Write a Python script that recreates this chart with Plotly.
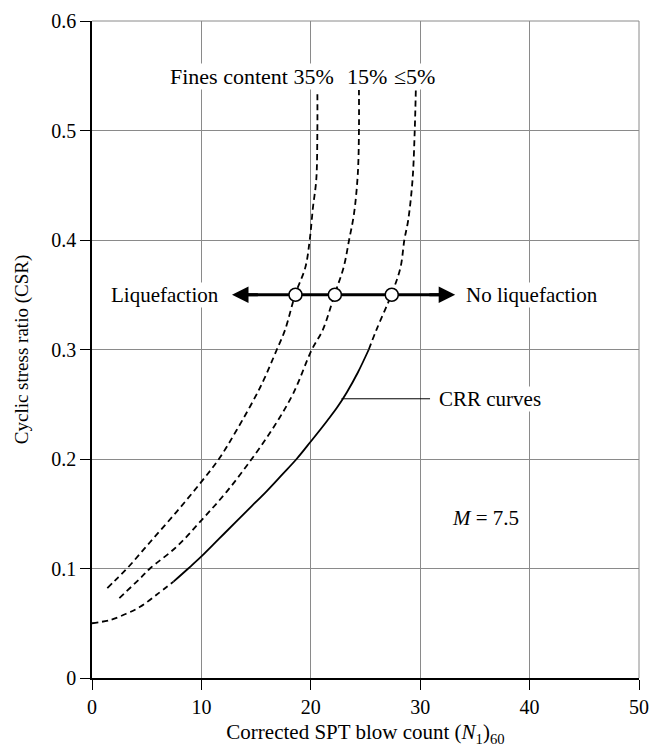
import plotly.graph_objects as go

# ---- data ----
n_35 = [1.4, 2.1, 3.2, 5.3, 7.75, 9.9, 11.6, 13.2, 15.4, 16.9, 17.65, 18.6, 19.5, 19.9, 20.2, 20.5, 20.6, 20.6]
csr_35 = [0.082, 0.089, 0.100, 0.124, 0.152, 0.178, 0.200, 0.226, 0.266, 0.300, 0.318, 0.351, 0.375, 0.400, 0.430, 0.455, 0.500, 0.537]

n_15 = [2.5, 4.4, 5.3, 7.75, 10.0, 12.3, 14.6, 16.6, 18.4, 20.1, 21.1, 22.2, 23.0, 23.5, 23.95, 24.3, 24.4, 24.4]
csr_15 = [0.073, 0.091, 0.100, 0.120, 0.144, 0.170, 0.200, 0.229, 0.260, 0.300, 0.318, 0.351, 0.375, 0.400, 0.424, 0.461, 0.500, 0.537]

n_5_low = [0, 1.67, 3.2, 4.4, 5.9, 7.45]
csr_5_low = [0.050, 0.053, 0.059, 0.065, 0.076, 0.088]
n_5_mid = [7.45, 8.8, 10.0, 11.6, 13.2, 14.6, 16.0, 17.4, 18.7, 20.0, 21.5, 22.4, 23.3, 24.3, 25.3]
csr_5_mid = [0.088, 0.100, 0.111, 0.127, 0.143, 0.157, 0.171, 0.186, 0.200, 0.216, 0.235, 0.247, 0.261, 0.279, 0.300]
n_5_up = [25.3, 26.0, 27.4, 28.2, 28.55, 28.9, 29.3, 29.5, 29.6]
csr_5_up = [0.300, 0.318, 0.351, 0.375, 0.400, 0.418, 0.455, 0.500, 0.537]

circle_n = [18.6, 22.2, 27.4]
circle_csr = [0.35, 0.35, 0.35]

arrow_csr = 0.35
arrow_left_n = 12.8
arrow_right_n = 33.2

crr_leader_n = [22.8, 30.9]
crr_leader_csr = [0.255, 0.255]

x_ticks = [0, 10, 20, 30, 40, 50]
y_ticks = [0, 0.1, 0.2, 0.3, 0.4, 0.5, 0.6]
y_ticklabels = ["0", "0.1", "0.2", "0.3", "0.4", "0.5", "0.6"]

FONT = "Liberation Serif"
DASH = "6px,4px"
LW = 1.8

fig = go.Figure()

def add_line(x, y, dash):
    fig.add_trace(go.Scatter(x=x, y=y, mode="lines",
                             line=dict(color="black", width=LW, dash=dash, shape="spline", smoothing=1.0),
                             showlegend=False, hoverinfo="skip"))

add_line(n_35, csr_35, DASH)
add_line(n_15, csr_15, DASH)
add_line(n_5_low, csr_5_low, DASH)
add_line(n_5_mid, csr_5_mid, "solid")
add_line(n_5_up, csr_5_up, DASH)

# arrow shaft
fig.add_trace(go.Scatter(x=[arrow_left_n + 1.0, arrow_right_n - 1.0], y=[arrow_csr, arrow_csr], mode="lines",
                         line=dict(color="black", width=3), showlegend=False, hoverinfo="skip"))
fig.add_annotation(x=arrow_left_n, y=arrow_csr, ax=arrow_left_n + 2.5, ay=arrow_csr, xref="x", yref="y",
                   axref="x", ayref="y", showarrow=True, arrowhead=2, arrowsize=1.1, arrowwidth=3,
                   arrowcolor="black", text="")
fig.add_annotation(x=arrow_right_n, y=arrow_csr, ax=arrow_right_n - 2.5, ay=arrow_csr, xref="x", yref="y",
                   axref="x", ayref="y", showarrow=True, arrowhead=2, arrowsize=1.1, arrowwidth=3,
                   arrowcolor="black", text="")

fig.add_trace(go.Scatter(x=circle_n, y=circle_csr, mode="markers",
                         marker=dict(symbol="circle", size=13, color="white", line=dict(color="black", width=1.5)),
                         showlegend=False, hoverinfo="skip"))

# CRR leader line
fig.add_trace(go.Scatter(x=crr_leader_n, y=crr_leader_csr, mode="lines", line=dict(color="black", width=1),
                         showlegend=False, hoverinfo="skip"))

tf = dict(family=FONT, size=21, color="black")
tf22 = dict(family=FONT, size=22, color="black")
fig.add_annotation(x=31.6, y=0.255, text="CRR curves", showarrow=False, xanchor="left", font=tf,
                   bgcolor="white", borderpad=0)
fig.add_annotation(x=11.7, y=arrow_csr, text="Liquefaction", showarrow=False, xanchor="right", font=tf,
                   bgcolor="white", borderpad=0)
fig.add_annotation(x=34.1, y=arrow_csr, text="No liquefaction", showarrow=False, xanchor="left", font=tf,
                   bgcolor="white", borderpad=0)
fig.add_annotation(x=22.2, y=0.549, text="Fines content 35%", showarrow=False, xanchor="right", font=tf22,
                   bgcolor="white", borderpad=0)
fig.add_annotation(x=25.1, y=0.549, text="15%", showarrow=False, xanchor="center", font=tf22,
                   bgcolor="white", borderpad=0)
fig.add_annotation(x=29.5, y=0.549, text="≤5%", showarrow=False, xanchor="center", font=tf22,
                   bgcolor="white", borderpad=0)
fig.add_annotation(x=32.7, y=0.146, text="<i>M</i> = 7.5", showarrow=False, xanchor="left", font=tf)

axis_common = dict(showgrid=True, gridcolor="#8a8a8a", gridwidth=1, zeroline=False, showline=True, linecolor="black",
                   linewidth=1.5, ticks="outside", ticklen=10, tickcolor="black", tickwidth=1, automargin=False,
                   ticklabeloverflow="allow", tickfont=dict(family=FONT, size=20, color="black"))

fig.update_xaxes(range=[0, 50], tickvals=x_ticks, ticktext=[str(v) for v in x_ticks],
                 title=dict(text="Corrected SPT blow count (<i>N</i><sub>1</sub>)<sub>60</sub>",
                            font=dict(family=FONT, size=21, color="black"), standoff=8),
                 **axis_common)
fig.update_yaxes(range=[0, 0.6], tickvals=y_ticks, ticktext=y_ticklabels,
                 title=dict(text="Cyclic stress ratio (CSR)", font=dict(family=FONT, size=19, color="black"), standoff=18),
                 **axis_common)

# frame lines top/right (grid colored)
fig.add_shape(type="line", xref="paper", yref="paper", x0=0, x1=1, y0=1, y1=1, line=dict(color="#8a8a8a", width=1))
fig.add_shape(type="line", xref="paper", yref="paper", x0=1, x1=1, y0=0, y1=1, line=dict(color="#8a8a8a", width=1))

fig.update_layout(width=651, height=747, margin=dict(l=92, r=12, t=21, b=69),
                  plot_bgcolor="white", paper_bgcolor="white")

# remove the default page margin so the figure fills the window exactly
fig.write_html("out.html", config={"displayModeBar": False},
               post_script="document.body.style.margin='0';document.body.style.overflow='hidden';")
